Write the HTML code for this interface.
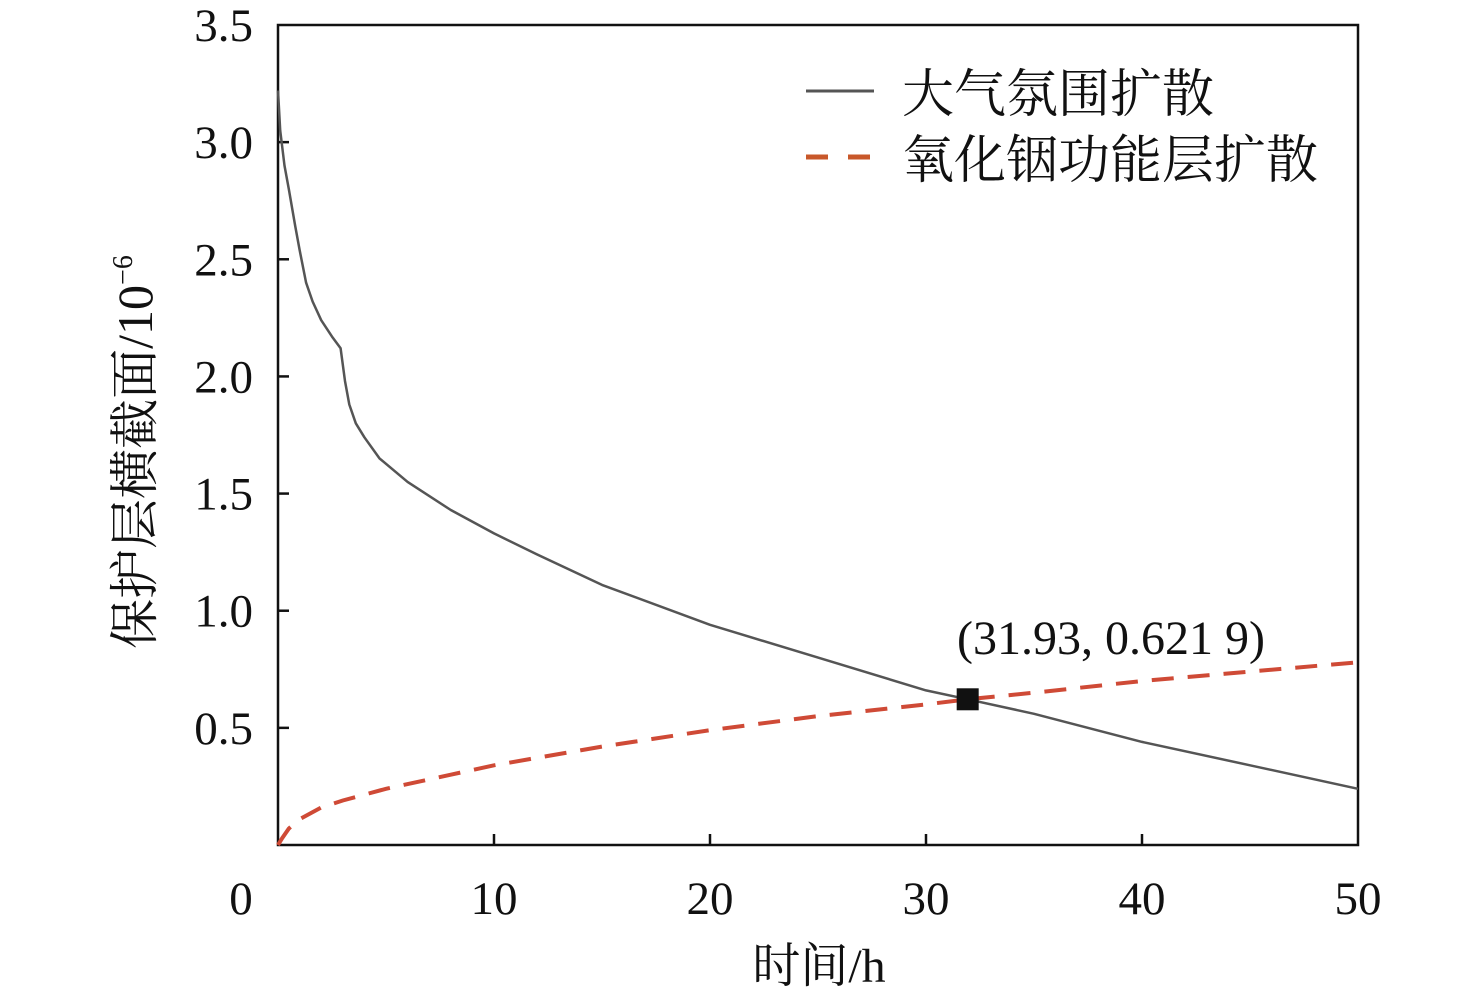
<!DOCTYPE html>
<html><head><meta charset="utf-8"><style>
body{margin:0;background:#fff}
svg text{font-family:"Liberation Serif","Noto Serif CJK SC",serif;fill:#111}
</style></head><body>
<svg width="1476" height="998" id="c">
<rect x="0" y="0" width="1476" height="998" fill="#fff"/>
<g id="plot"></g>
</svg>
<script>
const xTicks=[0,10,20,30,40,50];
const yTicks=[0.5,1.0,1.5,2.0,2.5,3.0,3.5];
const yTickLabels=["0.5","1.0","1.5","2.0","2.5","3.0","3.5"];
const atmX=[0,0.1,0.3,0.5,0.8,1,1.3,1.6,2,2.5,2.9,3.1,3.3,3.6,4,4.7,6,8,10,12,15,20,25,30,31.93,35,40,45,50];
const atmY=[3.22,3.05,2.9,2.8,2.64,2.54,2.4,2.32,2.24,2.17,2.12,1.98,1.88,1.8,1.74,1.65,1.55,1.43,1.33,1.24,1.11,0.94,0.80,0.66,0.6219,0.56,0.44,0.34,0.24];
const inX=[0,0.2,0.5,1,2,3,5,8,10,15,20,25,30,31.93,35,40,45,50];
const inY=[0,0.03,0.07,0.11,0.16,0.19,0.24,0.30,0.34,0.42,0.49,0.55,0.60,0.6219,0.65,0.70,0.74,0.78];
const crossPt=[31.93,0.6219];
const NS="http://www.w3.org/2000/svg";
const X0=278,X1=1358,Y0=845,Y1=25;
const sx=v=>X0+(X1-X0)*v/50, sy=v=>Y0-(Y0-Y1)*v/3.5;
const g=document.getElementById('plot');
function mk(t,a){const e=document.createElementNS(NS,t);for(const k in a)e.setAttribute(k,a[k]);g.appendChild(e);return e;}
let e=mk('rect',{x:X0,y:Y1,width:X1-X0,height:Y0-Y1,fill:'none',stroke:'#111','stroke-width':2.5});


xTicks.forEach(v=>{
 if(v>0&&v<50){let t=mk('line',{x1:sx(v),x2:sx(v),y1:Y0,y2:Y0-11,stroke:'#111','stroke-width':2.5});
 
 }
 let l=mk('text',{x:v===0?241:sx(v),y:914,'font-size':47,'text-anchor':'middle'});l.textContent=v;
 
 
});
yTicks.forEach((v,i)=>{
 if(v<3.5){let t=mk('line',{x1:X0,x2:X0+11,y1:sy(v),y2:sy(v),stroke:'#111','stroke-width':2.5});
 
 }
 let l=mk('text',{x:253,y:sy(v)+16,'font-size':47,'text-anchor':'end'});l.textContent=yTickLabels[i];
 
 
});
const pts=(xs,ys)=>xs.map((x,i)=>sx(x).toFixed(1)+','+sy(ys[i]).toFixed(1)).join(' ');
e=mk('polyline',{points:pts(atmX,atmY),fill:'none',stroke:'#555','stroke-width':2.5,'stroke-linejoin':'round'});


e=mk('polyline',{points:pts(inX,inY),fill:'none',stroke:'#cf4a36','stroke-width':4,'stroke-dasharray':'22 14'});


e=mk('rect',{x:sx(crossPt[0])-11,y:sy(crossPt[1])-11,width:22,height:22,fill:'#111'});


e=mk('text',{x:1111,y:654,'font-size':48,'text-anchor':'middle'});e.textContent='(31.93, 0.621 9)';


e=mk('line',{x1:806,x2:874,y1:91,y2:91,stroke:'#555','stroke-width':3});


e=mk('text',{x:902,y:112,'font-size':52});e.textContent='大气氛围扩散';


e=mk('line',{x1:806,x2:874,y1:157,y2:157,stroke:'#c8582a','stroke-width':5,'stroke-dasharray':'22 20'});


e=mk('text',{x:902,y:178,'font-size':52});e.textContent='氧化铟功能层扩散';


e=mk('text',{x:819,y:982,'font-size':48,'text-anchor':'middle'});e.textContent='时间/h';


e=mk('text',{x:0,y:0,'font-size':50,'text-anchor':'middle',transform:'translate(152,452) rotate(-90)'});
e.innerHTML='保护层横截面/10<tspan dy="-20" font-size="28">−6</tspan>';


</script>
</body></html>
